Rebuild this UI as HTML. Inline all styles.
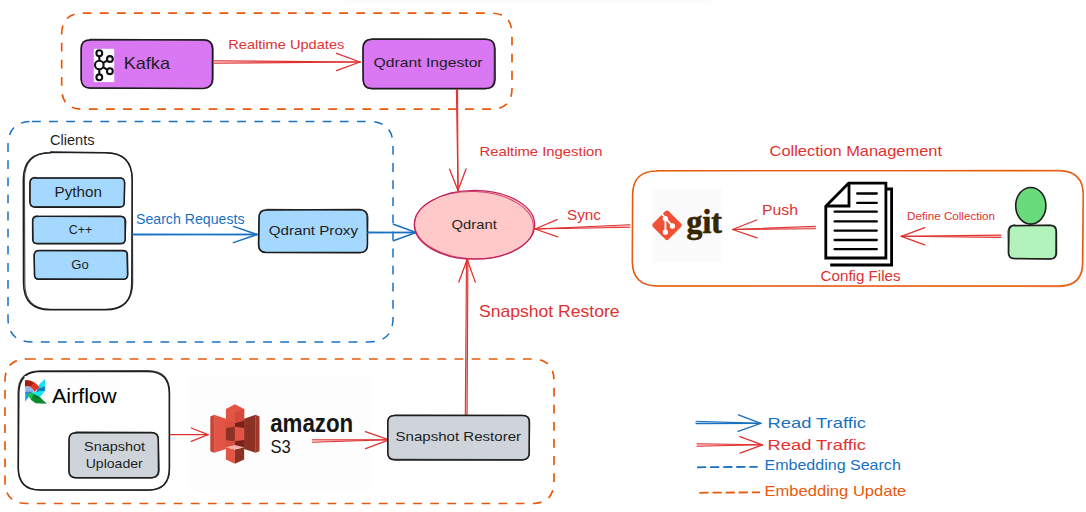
<!DOCTYPE html>
<html lang="en">
<head>
<meta charset="utf-8">
<title>Qdrant Architecture</title>
<style>
html,body{margin:0;padding:0;background:#ffffff;}
body{width:1086px;height:512px;overflow:hidden;font-family:"Liberation Sans", "DejaVu Sans", sans-serif;}
svg{display:block;}
text{white-space:pre;}
</style>
</head>
<body>
<svg width="1086" height="512" viewBox="0 0 1086 512">
<defs>
<filter id="blur" x="-10%" y="-200%" width="120%" height="500%"><feGaussianBlur stdDeviation="6 2.2"/></filter>
</defs>
<rect x="0" y="0" width="1086" height="512" fill="#ffffff"/>
<rect x="345" y="-6" width="365" height="8" fill="#000" opacity="0.032" filter="url(#blur)"/>
<path d="M82.7 13.2 L491.0 13.2 Q512.0 13.2 512.0 34.2 L512.0 88.2 Q512.0 109.2 491.0 109.2 L82.7 109.2 Q61.7 109.2 61.7 88.2 L61.7 34.2 Q61.7 13.2 82.7 13.2 Z" fill="none" stroke="#e8590c" stroke-width="1.7" stroke-dasharray="8.8 8.3"/>
<path d="M32.0 121.5 L369.0 121.5 Q393.0 121.5 393.0 145.5 L393.0 318.0 Q393.0 342.0 369.0 342.0 L32.0 342.0 Q8.0 342.0 8.0 318.0 L8.0 145.5 Q8.0 121.5 32.0 121.5 Z" fill="none" stroke="#1971c2" stroke-width="1.5" stroke-dasharray="8.8 8.3"/>
<path d="M27.0 359.0 L532.0 359.0 Q554.0 359.0 554.0 381.0 L554.0 481.5 Q554.0 503.5 532.0 503.5 L27.0 503.5 Q5.0 503.5 5.0 481.5 L5.0 381.0 Q5.0 359.0 27.0 359.0 Z" fill="none" stroke="#e8590c" stroke-width="1.7" stroke-dasharray="8.8 8.3"/>
<path d="M90.2 39.6 L203.6 39.6 Q212.6 39.6 212.6 48.6 L212.6 79.1 Q212.6 88.1 203.6 88.1 L90.2 88.1 Q81.2 88.1 81.2 79.1 L81.2 48.6 Q81.2 39.6 90.2 39.6 Z" fill="#da77f2" stroke="none"/>
<path d="M90.1 39.4 L203.3 39.9 Q212.3 39.8 212.5 48.8 L212.4 79.1 Q212.3 88.1 203.3 88.4 L90.1 87.9 Q81.1 88.1 81.3 79.1 L81.2 48.8 Q81.1 39.8 90.1 39.9 Z" fill="none" stroke="#1e1e1e" stroke-width="1.5" stroke-linejoin="round"/>
<path d="M90.2 40.0 L204.0 39.5 Q213.0 39.9 213.1 48.9 L213.1 79.1 Q213.0 88.1 204.0 88.5 L90.2 88.3 Q81.2 88.1 81.0 79.1 L81.1 48.9 Q81.2 39.9 90.2 40.0 Z" fill="none" stroke="#1e1e1e" stroke-width="1.20" stroke-linejoin="round" opacity="0.75"/>
<rect x="93.8" y="48.8" width="20.4" height="33.3" fill="#ffffff"/>
<g fill="none" stroke="#111" stroke-width="2.1"><path d="M99.3 56 V60.5 M99.3 69.5 V74.5 M103.2 62.8 L107.4 60.4 M103.2 67.2 L107.4 69.8"/><circle cx="99.3" cy="53.2" r="2.9"/><circle cx="99.3" cy="65" r="4.3"/><circle cx="99.3" cy="77.3" r="2.9"/><circle cx="109.9" cy="59" r="2.9"/><circle cx="109.9" cy="71.2" r="2.9"/></g>
<text x="123.7" y="69.1" font-size="16.6" fill="#1e1e1e" text-anchor="start" font-weight="normal" font-family='"Liberation Sans", "DejaVu Sans", sans-serif' textLength="46.3" lengthAdjust="spacingAndGlyphs">Kafka</text>
<path d="M372.0 39.1 L485.4 39.1 Q494.4 39.1 494.4 48.1 L494.4 79.9 Q494.4 88.9 485.4 88.9 L372.0 88.9 Q363.0 88.9 363.0 79.9 L363.0 48.1 Q363.0 39.1 372.0 39.1 Z" fill="#da77f2" stroke="none"/>
<path d="M372.3 39.3 L485.7 39.2 Q494.7 39.4 495.0 48.4 L495.1 79.7 Q494.7 88.7 485.7 88.4 L372.3 88.5 Q363.3 88.7 363.1 79.7 L363.1 48.4 Q363.3 39.4 372.3 39.3 Z" fill="none" stroke="#1e1e1e" stroke-width="1.5" stroke-linejoin="round"/>
<path d="M372.1 38.8 L485.0 39.0 Q494.0 38.9 494.4 47.9 L494.2 79.8 Q494.0 88.8 485.0 88.8 L372.1 88.9 Q363.1 88.8 363.2 79.8 L362.7 47.9 Q363.1 38.9 372.1 39.2 Z" fill="none" stroke="#1e1e1e" stroke-width="1.20" stroke-linejoin="round" opacity="0.75"/>
<text x="373.6" y="67" font-size="13.2" fill="#1e1e1e" text-anchor="start" font-weight="normal" font-family='"Liberation Sans", "DejaVu Sans", sans-serif' textLength="109" lengthAdjust="spacingAndGlyphs">Qdrant Ingestor</text>
<path d="M213.5 63.2 L360.0 62.0" stroke="#e03131" stroke-width="1.1" fill="none" stroke-linecap="round"/>
<path d="M213.5 60.8 L360.0 62.0" stroke="#e03131" stroke-width="1.1" fill="none" stroke-linecap="round"/>
<path d="M213.5 62.0 L360.0 62.0" stroke="#e03131" stroke-width="0.88" fill="none" stroke-linecap="round" opacity="0.45"/>
<path d="M336.5 53.4 L360.0 62.0" stroke="#e03131" stroke-width="1.3" fill="none" stroke-linecap="round"/>
<path d="M336.5 70.6 L360.0 62.0" stroke="#e03131" stroke-width="1.3" fill="none" stroke-linecap="round"/>
<text x="228.3" y="49.3" font-size="13.6" fill="#e03131" text-anchor="start" font-weight="normal" font-family='"Liberation Sans", "DejaVu Sans", sans-serif' textLength="116" lengthAdjust="spacingAndGlyphs">Realtime Updates</text>
<path d="M456.4 89.5 L458.0 190.5" stroke="#e03131" stroke-width="1.1" fill="none" stroke-linecap="round"/>
<path d="M457.6 89.5 L458.0 190.5" stroke="#e03131" stroke-width="1.1" fill="none" stroke-linecap="round"/>
<path d="M457.0 89.5 L458.0 190.5" stroke="#e03131" stroke-width="0.88" fill="none" stroke-linecap="round" opacity="0.45"/>
<path d="M466.0 168.9 L458.0 190.5" stroke="#e03131" stroke-width="1.3" fill="none" stroke-linecap="round"/>
<path d="M449.5 169.1 L458.0 190.5" stroke="#e03131" stroke-width="1.3" fill="none" stroke-linecap="round"/>
<text x="479.5" y="156.4" font-size="13.6" fill="#e03131" text-anchor="start" font-weight="normal" font-family='"Liberation Sans", "DejaVu Sans", sans-serif' textLength="123" lengthAdjust="spacingAndGlyphs">Realtime Ingestion</text>
<text x="50" y="144.5" font-size="13.8" fill="#1e1e1e" text-anchor="start" font-weight="normal" font-family='"Liberation Sans", "DejaVu Sans", sans-serif' textLength="44.5" lengthAdjust="spacingAndGlyphs">Clients</text>
<path d="M51.0 152.8 L105.4 152.8 Q132.4 152.8 132.4 179.8 L132.4 283.0 Q132.4 310.0 105.4 310.0 L51.0 310.0 Q24.0 310.0 24.0 283.0 L24.0 179.8 Q24.0 152.8 51.0 152.8 Z" fill="#ffffff" stroke="none"/>
<path d="M50.6 152.1 L105.1 152.8 Q132.1 152.5 132.2 179.5 L131.8 282.9 Q132.1 309.9 105.1 309.7 L50.6 309.8 Q23.6 309.9 23.5 282.9 L23.3 179.5 Q23.6 152.5 50.6 152.8 Z" fill="none" stroke="#1e1e1e" stroke-width="1.5" stroke-linejoin="round"/>
<path d="M51.4 152.5 L105.4 152.6 Q132.4 152.8 132.2 179.8 L132.7 282.7 Q132.4 309.7 105.4 309.4 L51.4 309.3 Q24.4 309.7 24.8 282.7 L24.4 179.8 Q24.4 152.8 51.4 152.5 Z" fill="none" stroke="#1e1e1e" stroke-width="1.20" stroke-linejoin="round" opacity="0.75"/>
<path d="M35.5 177.5 L119.0 177.5 Q124.0 177.5 124.0 182.5 L124.0 202.0 Q124.0 207.0 119.0 207.0 L35.5 207.0 Q30.5 207.0 30.5 202.0 L30.5 182.5 Q30.5 177.5 35.5 177.5 Z" fill="#a5d8ff" stroke="none"/>
<path d="M35.3 178.0 L119.4 178.0 Q124.4 177.7 124.6 182.7 L124.2 202.3 Q124.4 207.3 119.4 207.3 L35.3 207.2 Q30.3 207.3 29.9 202.3 L29.9 182.7 Q30.3 177.7 35.3 177.6 Z" fill="none" stroke="#1e1e1e" stroke-width="1.5" stroke-linejoin="round"/>
<path d="M35.3 178.0 L119.4 178.0 Q124.4 177.7 124.7 182.7 L124.3 202.0 Q124.4 207.0 119.4 206.7 L35.3 206.7 Q30.3 207.0 30.1 202.0 L30.1 182.7 Q30.3 177.7 35.3 177.8 Z" fill="none" stroke="#1e1e1e" stroke-width="1.20" stroke-linejoin="round" opacity="0.75"/>
<text x="54.5" y="196.7" font-size="13.8" fill="#1e1e1e" text-anchor="start" font-weight="normal" font-family='"Liberation Sans", "DejaVu Sans", sans-serif' textLength="47.5" lengthAdjust="spacingAndGlyphs">Python</text>
<path d="M37.5 216.0 L120.0 216.0 Q125.0 216.0 125.0 221.0 L125.0 239.0 Q125.0 244.0 120.0 244.0 L37.5 244.0 Q32.5 244.0 32.5 239.0 L32.5 221.0 Q32.5 216.0 37.5 216.0 Z" fill="#a5d8ff" stroke="none"/>
<path d="M37.4 216.2 L120.4 216.6 Q125.4 216.2 125.6 221.2 L125.1 238.9 Q125.4 243.9 120.4 243.6 L37.4 243.6 Q32.4 243.9 32.7 238.9 L32.6 221.2 Q32.4 216.2 37.4 216.0 Z" fill="none" stroke="#1e1e1e" stroke-width="1.5" stroke-linejoin="round"/>
<path d="M37.8 216.4 L120.1 216.1 Q125.1 216.4 124.7 221.4 L125.5 238.9 Q125.1 243.9 120.1 244.0 L37.8 243.9 Q32.8 243.9 33.1 238.9 L32.7 221.4 Q32.8 216.4 37.8 216.7 Z" fill="none" stroke="#1e1e1e" stroke-width="1.20" stroke-linejoin="round" opacity="0.75"/>
<text x="68.7" y="233.8" font-size="12.6" fill="#1e1e1e" text-anchor="start" font-weight="normal" font-family='"Liberation Sans", "DejaVu Sans", sans-serif' textLength="23.5" lengthAdjust="spacingAndGlyphs">C++</text>
<path d="M39.0 250.5 L122.5 250.5 Q127.5 250.5 127.5 255.5 L127.5 274.5 Q127.5 279.5 122.5 279.5 L39.0 279.5 Q34.0 279.5 34.0 274.5 L34.0 255.5 Q34.0 250.5 39.0 250.5 Z" fill="#a5d8ff" stroke="none"/>
<path d="M39.3 250.5 L122.8 250.5 Q127.8 250.4 127.4 255.4 L127.8 274.5 Q127.8 279.5 122.8 279.2 L39.3 279.1 Q34.3 279.5 34.6 274.5 L34.1 255.4 Q34.3 250.4 39.3 250.4 Z" fill="none" stroke="#1e1e1e" stroke-width="1.5" stroke-linejoin="round"/>
<path d="M39.2 250.6 L122.4 250.8 Q127.4 250.5 127.0 255.5 L127.4 274.5 Q127.4 279.5 122.4 279.3 L39.2 279.3 Q34.2 279.5 34.4 274.5 L34.2 255.5 Q34.2 250.5 39.2 250.6 Z" fill="none" stroke="#1e1e1e" stroke-width="1.20" stroke-linejoin="round" opacity="0.75"/>
<text x="71.2" y="269.2" font-size="12.8" fill="#1e1e1e" text-anchor="start" font-weight="normal" font-family='"Liberation Sans", "DejaVu Sans", sans-serif' textLength="17.5" lengthAdjust="spacingAndGlyphs">Go</text>
<path d="M132.5 234.9 L257.0 234.5" stroke="#1971c2" stroke-width="1.3" fill="none" stroke-linecap="round"/>
<path d="M132.5 234.1 L257.0 234.5" stroke="#1971c2" stroke-width="1.3" fill="none" stroke-linecap="round"/>
<path d="M132.5 234.5 L257.0 234.5" stroke="#1971c2" stroke-width="1.04" fill="none" stroke-linecap="round" opacity="0.45"/>
<path d="M233.4 226.4 L257.0 234.5" stroke="#1971c2" stroke-width="1.5" fill="none" stroke-linecap="round"/>
<path d="M233.4 242.6 L257.0 234.5" stroke="#1971c2" stroke-width="1.5" fill="none" stroke-linecap="round"/>
<text x="136" y="224" font-size="13.8" fill="#1971c2" text-anchor="start" font-weight="normal" font-family='"Liberation Sans", "DejaVu Sans", sans-serif' textLength="108.5" lengthAdjust="spacingAndGlyphs">Search Requests</text>
<path d="M266.5 210.0 L359.5 210.0 Q367.5 210.0 367.5 218.0 L367.5 244.5 Q367.5 252.5 359.5 252.5 L266.5 252.5 Q258.5 252.5 258.5 244.5 L258.5 218.0 Q258.5 210.0 266.5 210.0 Z" fill="#a5d8ff" stroke="none"/>
<path d="M266.9 210.1 L359.5 209.5 Q367.5 209.8 367.2 217.8 L367.5 244.9 Q367.5 252.9 359.5 252.5 L266.9 252.6 Q258.9 252.9 258.5 244.9 L259.0 217.8 Q258.9 209.8 266.9 210.0 Z" fill="none" stroke="#1e1e1e" stroke-width="1.5" stroke-linejoin="round"/>
<path d="M266.8 209.4 L359.7 210.0 Q367.7 209.7 368.0 217.7 L367.4 244.6 Q367.7 252.6 359.7 253.0 L266.8 252.5 Q258.8 252.6 258.8 244.6 L259.2 217.7 Q258.8 209.7 266.8 210.0 Z" fill="none" stroke="#1e1e1e" stroke-width="1.20" stroke-linejoin="round" opacity="0.75"/>
<text x="268.7" y="235" font-size="13.6" fill="#1e1e1e" text-anchor="start" font-weight="normal" font-family='"Liberation Sans", "DejaVu Sans", sans-serif' textLength="89.3" lengthAdjust="spacingAndGlyphs">Qdrant Proxy</text>
<path d="M368.0 232.9 L416.0 232.5" stroke="#1971c2" stroke-width="1.3" fill="none" stroke-linecap="round"/>
<path d="M368.0 232.1 L416.0 232.5" stroke="#1971c2" stroke-width="1.3" fill="none" stroke-linecap="round"/>
<path d="M368.0 232.5 L416.0 232.5" stroke="#1971c2" stroke-width="1.04" fill="none" stroke-linecap="round" opacity="0.45"/>
<path d="M393.4 224.3 L416.0 232.5" stroke="#1971c2" stroke-width="1.5" fill="none" stroke-linecap="round"/>
<path d="M393.4 240.7 L416.0 232.5" stroke="#1971c2" stroke-width="1.5" fill="none" stroke-linecap="round"/>
<ellipse cx="474.5" cy="224.8" rx="60" ry="34.3" fill="#ffc9c9"/>
<ellipse cx="474.5" cy="224.8" rx="60.2" ry="34.4" fill="none" stroke="#c2255c" stroke-width="1.3"/>
<ellipse cx="474" cy="225.2" rx="59.4" ry="33.6" fill="none" stroke="#c2255c" stroke-width="1" opacity="0.8" transform="rotate(2 474 225)"/>
<text x="451.6" y="229.3" font-size="13.2" fill="#1e1e1e" text-anchor="start" font-weight="normal" font-family='"Liberation Sans", "DejaVu Sans", sans-serif' textLength="45.2" lengthAdjust="spacingAndGlyphs">Qdrant</text>
<path d="M630.0 224.8 L535.0 229.0" stroke="#e03131" stroke-width="1.1" fill="none" stroke-linecap="round"/>
<path d="M630.0 227.2 L535.0 229.0" stroke="#e03131" stroke-width="1.1" fill="none" stroke-linecap="round"/>
<path d="M630.0 226.0 L535.0 229.0" stroke="#e03131" stroke-width="0.88" fill="none" stroke-linecap="round" opacity="0.45"/>
<path d="M557.7 236.9 L535.0 229.0" stroke="#e03131" stroke-width="1.3" fill="none" stroke-linecap="round"/>
<path d="M557.1 219.7 L535.0 229.0" stroke="#e03131" stroke-width="1.3" fill="none" stroke-linecap="round"/>
<text x="567" y="220" font-size="13.8" fill="#e03131" text-anchor="start" font-weight="normal" font-family='"Liberation Sans", "DejaVu Sans", sans-serif' textLength="34" lengthAdjust="spacingAndGlyphs">Sync</text>
<path d="M467.1 415.0 L467.9 259.5" stroke="#e03131" stroke-width="1.1" fill="none" stroke-linecap="round"/>
<path d="M465.3 415.0 L466.5 259.5" stroke="#e03131" stroke-width="1.1" fill="none" stroke-linecap="round"/>
<path d="M466.2 415.0 L467.2 259.5" stroke="#e03131" stroke-width="0.88" fill="none" stroke-linecap="round" opacity="0.45"/>
<path d="M458.8 282.0 L467.2 259.5" stroke="#e03131" stroke-width="1.3" fill="none" stroke-linecap="round"/>
<path d="M475.3 282.1 L467.2 259.5" stroke="#e03131" stroke-width="1.3" fill="none" stroke-linecap="round"/>
<text x="479" y="316.6" font-size="16.2" fill="#e03131" text-anchor="start" font-weight="normal" font-family='"Liberation Sans", "DejaVu Sans", sans-serif' textLength="140.6" lengthAdjust="spacingAndGlyphs">Snapshot Restore</text>
<text x="769.6" y="156.3" font-size="14.8" fill="#e03131" text-anchor="start" font-weight="normal" font-family='"Liberation Sans", "DejaVu Sans", sans-serif' textLength="172.4" lengthAdjust="spacingAndGlyphs">Collection Management</text>
<path d="M656.7 170.6 L1059.0 170.8 Q1083.0 170.9 1083.2 194.9 L1082.5 261.8 Q1083.0 285.8 1059.0 285.9 L656.7 285.8 Q632.7 285.8 632.2 261.8 L632.5 194.9 Q632.7 170.9 656.7 171.1 Z" fill="none" stroke="#e8590c" stroke-width="1.35" stroke-linejoin="round"/>
<path d="M657.0 171.0 L1059.5 170.2 Q1083.5 170.6 1083.3 194.6 L1083.0 262.3 Q1083.5 286.3 1059.5 286.6 L657.0 286.1 Q633.0 286.3 632.6 262.3 L632.9 194.6 Q633.0 170.6 657.0 171.0 Z" fill="none" stroke="#e8590c" stroke-width="1.08" stroke-linejoin="round" opacity="0.75"/>
<rect x="652.6" y="187.6" width="69.2" height="75" fill="#fbfbfb"/>
<g transform="translate(667 225.3) rotate(45)"><rect x="-11.1" y="-11.1" width="22.2" height="22.2" rx="2.4" fill="#f05033"/></g>
<g stroke="#fff" stroke-width="1.9" fill="#fff" stroke-linecap="round"><path d="M661.6 213.6 L665.4 218 V232 M665.4 218 L672 225.6" fill="none"/><circle cx="665.4" cy="218.6" r="1.7"/><circle cx="672.4" cy="226" r="1.7"/><circle cx="665.4" cy="232.2" r="1.7"/></g>
<text x="686.6" y="232.7" font-size="33" fill="#362701" text-anchor="start" font-weight="bold" font-family='"Liberation Serif", "DejaVu Serif", serif' textLength="35.2" lengthAdjust="spacingAndGlyphs" stroke="#362701" stroke-width="0.7">git</text>
<path d="M815.5 226.3 L732.5 229.5" stroke="#e03131" stroke-width="1.1" fill="none" stroke-linecap="round"/>
<path d="M815.5 228.7 L732.5 229.5" stroke="#e03131" stroke-width="1.1" fill="none" stroke-linecap="round"/>
<path d="M815.5 227.5 L732.5 229.5" stroke="#e03131" stroke-width="0.88" fill="none" stroke-linecap="round" opacity="0.45"/>
<path d="M757.1 237.8 L732.5 229.5" stroke="#e03131" stroke-width="1.3" fill="none" stroke-linecap="round"/>
<path d="M756.7 220.0 L732.5 229.5" stroke="#e03131" stroke-width="1.3" fill="none" stroke-linecap="round"/>
<text x="762" y="215" font-size="13.8" fill="#e03131" text-anchor="start" font-weight="normal" font-family='"Liberation Sans", "DejaVu Sans", sans-serif' textLength="36" lengthAdjust="spacingAndGlyphs">Push</text>
<g stroke="#000" stroke-width="2.8" fill="#fff" stroke-linejoin="miter"><path d="M830.2 265 H891.6 V189 H886"/><path d="M825.8 206.2 L848.6 183.2 H885.9 V258 H825.8 Z"/><path d="M826 206 H849 V183.4" fill="none"/></g>
<g stroke="#000" stroke-width="2.3" fill="none" stroke-linecap="round"><path d="M857.2 193.5 H876.8 M857.2 202.9 H876.8 M834.6 211.7 H876.8 M834.6 221.4 H876.8 M834.6 230.6 H876.8 M834.6 240 H876.8 M834.6 249.2 H876.8"/></g>
<text x="820.6" y="281" font-size="13.8" fill="#e03131" text-anchor="start" font-weight="normal" font-family='"Liberation Sans", "DejaVu Sans", sans-serif' textLength="80" lengthAdjust="spacingAndGlyphs">Config Files</text>
<path d="M1001.0 235.1 L901.3 236.3" stroke="#e03131" stroke-width="1.1" fill="none" stroke-linecap="round"/>
<path d="M1001.0 237.5 L901.3 236.3" stroke="#e03131" stroke-width="1.1" fill="none" stroke-linecap="round"/>
<path d="M1001.0 236.3 L901.3 236.3" stroke="#e03131" stroke-width="0.88" fill="none" stroke-linecap="round" opacity="0.45"/>
<path d="M924.8 244.9 L901.3 236.3" stroke="#e03131" stroke-width="1.3" fill="none" stroke-linecap="round"/>
<path d="M924.8 227.7 L901.3 236.3" stroke="#e03131" stroke-width="1.3" fill="none" stroke-linecap="round"/>
<text x="907" y="219.7" font-size="11.2" fill="#e03131" text-anchor="start" font-weight="normal" font-family='"Liberation Sans", "DejaVu Sans", sans-serif' textLength="88" lengthAdjust="spacingAndGlyphs">Define Collection</text>
<ellipse cx="1030.8" cy="205.8" rx="15.1" ry="18.3" fill="#69db7c" stroke="#1e1e1e" stroke-width="1.6"/>
<path d="M1014.7 225.7 L1050.2 225.7 Q1056.2 225.7 1056.2 231.7 L1056.2 253.1 Q1056.2 259.1 1050.2 259.1 L1014.7 259.1 Q1008.7 259.1 1008.7 253.1 L1008.7 231.7 Q1008.7 225.7 1014.7 225.7 Z" fill="#b2f2bb" stroke="none"/>
<path d="M1014.9 225.7 L1050.5 225.3 Q1056.5 225.4 1056.4 231.4 L1056.5 252.8 Q1056.5 258.8 1050.5 259.1 L1014.9 258.6 Q1008.9 258.8 1008.6 252.8 L1009.0 231.4 Q1008.9 225.4 1014.9 225.2 Z" fill="none" stroke="#1e1e1e" stroke-width="1.5" stroke-linejoin="round"/>
<path d="M1014.4 225.3 L1049.8 225.3 Q1055.8 225.4 1056.0 231.4 L1055.7 252.9 Q1055.8 258.9 1049.8 258.9 L1014.4 258.6 Q1008.4 258.9 1008.3 252.9 L1008.0 231.4 Q1008.4 225.4 1014.4 225.2 Z" fill="none" stroke="#1e1e1e" stroke-width="1.20" stroke-linejoin="round" opacity="0.75"/>
<path d="M40.5 371.0 L147.5 371.0 Q169.5 371.0 169.5 393.0 L169.5 468.0 Q169.5 490.0 147.5 490.0 L40.5 490.0 Q18.5 490.0 18.5 468.0 L18.5 393.0 Q18.5 371.0 40.5 371.0 Z" fill="#ffffff" stroke="none"/>
<path d="M40.7 371.6 L147.4 371.5 Q169.4 371.4 169.3 393.4 L169.3 468.3 Q169.4 490.3 147.4 489.9 L40.7 490.0 Q18.7 490.3 18.3 468.3 L18.8 393.4 Q18.7 371.4 40.7 371.2 Z" fill="none" stroke="#1e1e1e" stroke-width="1.5" stroke-linejoin="round"/>
<path d="M40.2 370.8 L147.8 370.5 Q169.8 370.7 169.6 392.7 L169.6 468.3 Q169.8 490.3 147.8 490.3 L40.2 490.0 Q18.2 490.3 18.2 468.3 L18.0 392.7 Q18.2 370.7 40.2 371.0 Z" fill="none" stroke="#1e1e1e" stroke-width="1.20" stroke-linejoin="round" opacity="0.75"/>
<rect x="24.6" y="376" width="95.5" height="30.5" fill="#fdfdfd"/>
<path d="M25.18 386.62 L29.96 385.95 L33.28 388.94 L33.61 392.26 L25.18 392.26 Z" fill="#8fb6f2"/>
<path d="M25.18 391.80 L33.61 391.80 L29.96 394.25 L25.18 394.25 Z" fill="#3d7fe8"/>
<path d="M25.18 393.79 L30.62 393.79 L25.18 401.76 Z" fill="#1f9bf2"/>
<path d="M44.90 378.78 L45.10 387.28 L38.59 388.28 L37.40 386.62 Z" fill="#19e0f2"/>
<path d="M45.10 386.62 L45.10 390.93 L35.60 392.26 L38.26 388.28 Z" fill="#0b7fc0"/>
<path d="M33.61 392.26 L45.10 390.60 L39.92 397.24 L34.28 396.24 Z" fill="#10e6f5"/>
<path d="M26.97 394.92 L28.63 393.12 L33.61 392.46 L34.28 396.58 L32.28 400.89 Z" fill="#1cc44d"/>
<path d="M33.61 393.92 L39.92 397.24 L46.89 403.68 L35.60 403.35 L30.96 399.76 Z" fill="#0b8a30"/>
<path d="M33.61 393.92 L34.28 396.58 L37.26 399.23 L39.92 397.24 Z" fill="#0a7428"/>
<path d="M24.98 380.31 C31.29 379.64 36.60 382.63 39.39 387.61 L34.08 392.06 C33.61 388.28 29.96 385.29 24.98 386.62 Z" fill="#e5341b"/>
<path d="M24.98 380.31 C28.63 379.84 31.62 380.97 33.61 382.96 L30.62 386.28 C28.96 385.42 26.97 385.42 24.98 386.62 Z" fill="#a81f0e"/>
<text x="52" y="402.6" font-size="20" fill="#000" text-anchor="start" font-weight="normal" font-family='"Liberation Sans", "DejaVu Sans", sans-serif' textLength="64.6" lengthAdjust="spacingAndGlyphs">Airflow</text>
<path d="M76.0 433.0 L151.5 433.0 Q158.5 433.0 158.5 440.0 L158.5 471.0 Q158.5 478.0 151.5 478.0 L76.0 478.0 Q69.0 478.0 69.0 471.0 L69.0 440.0 Q69.0 433.0 76.0 433.0 Z" fill="#ced4da" stroke="none"/>
<path d="M75.8 432.3 L151.4 432.5 Q158.4 432.7 158.2 439.7 L158.5 470.6 Q158.4 477.6 151.4 477.7 L75.8 477.8 Q68.8 477.6 68.9 470.6 L69.0 439.7 Q68.8 432.7 75.8 433.0 Z" fill="none" stroke="#1e1e1e" stroke-width="1.5" stroke-linejoin="round"/>
<path d="M75.9 433.0 L151.9 433.0 Q158.9 432.9 158.5 439.9 L159.2 470.7 Q158.9 477.7 151.9 478.0 L75.9 477.8 Q68.9 477.7 69.1 470.7 L69.2 439.9 Q68.9 432.9 75.9 432.6 Z" fill="none" stroke="#1e1e1e" stroke-width="1.20" stroke-linejoin="round" opacity="0.75"/>
<text x="114.5" y="450.8" font-size="13.2" fill="#1e1e1e" text-anchor="middle" font-weight="normal" font-family='"Liberation Sans", "DejaVu Sans", sans-serif' textLength="61" lengthAdjust="spacingAndGlyphs">Snapshot</text>
<text x="114.2" y="468" font-size="13.2" fill="#1e1e1e" text-anchor="middle" font-weight="normal" font-family='"Liberation Sans", "DejaVu Sans", sans-serif' textLength="57" lengthAdjust="spacingAndGlyphs">Uploader</text>
<rect x="189.6" y="376.4" width="179.8" height="113.4" fill="#fdfdfd"/>
<path d="M210.29 416.54 L214.25 414.76 L214.25 452.77 L210.29 451.26 Z" fill="#c4473a"/>
<path d="M214.11 414.76 L226.01 418.73 L226.01 448.94 L214.11 452.77 Z" fill="#e25444"/>
<path d="M259.50 416.54 L255.54 414.76 L255.54 452.77 L259.50 451.26 Z" fill="#a13729"/>
<path d="M255.67 414.76 L244.05 418.73 L244.05 448.94 L255.67 452.77 Z" fill="#8c3123"/>
<path d="M225.87 419.14 L234.89 420.51 L234.89 447.85 L225.87 447.85 Z" fill="#d94f40"/>
<path d="M234.89 420.51 L244.19 419.14 L244.19 447.85 L234.89 447.85 Z" fill="#7a2118"/>
<path d="M225.87 409.02 L234.89 404.37 L244.19 409.02 L244.19 420.51 L234.89 422.97 L225.87 420.51 Z" fill="#e25444"/>
<path d="M234.89 412.58 L244.19 409.02 L244.19 420.51 L234.89 422.97 Z" fill="#d24a3b"/>
<path d="M225.87 428.02 L234.89 426.79 L234.89 441.29 L225.87 439.92 Z" fill="#8c3123"/>
<path d="M234.89 426.79 L244.19 428.02 L244.19 439.92 L234.89 441.29 Z" fill="#e25444"/>
<path d="M225.87 447.16 L234.89 449.49 L234.89 463.84 L225.87 459.60 Z" fill="#e25444"/>
<path d="M234.89 449.49 L244.19 447.16 L244.19 459.60 L234.89 463.84 Z" fill="#8c3123"/>
<path d="M225.87 447.16 L234.89 444.98 L244.19 447.16 L234.89 449.49 Z" fill="#f2b0a9"/>
<path d="M170.0 434.7 L208.0 434.7" stroke="#e03131" stroke-width="1.3" fill="none" stroke-linecap="round"/>
<path d="M191.3 428.0 L208.0 434.7" stroke="#e03131" stroke-width="1.3" fill="none" stroke-linecap="round"/>
<path d="M191.3 441.4 L208.0 434.7" stroke="#e03131" stroke-width="1.3" fill="none" stroke-linecap="round"/>
<text x="270.2" y="432.3" font-size="26" fill="#161616" text-anchor="start" font-weight="bold" font-family='"Liberation Sans", "DejaVu Sans", sans-serif' textLength="83" lengthAdjust="spacingAndGlyphs">amazon</text>
<text x="270.4" y="452.6" font-size="19" fill="#161616" text-anchor="start" font-weight="normal" font-family='"Liberation Sans", "DejaVu Sans", sans-serif' textLength="20.3" lengthAdjust="spacingAndGlyphs">S3</text>
<path d="M312.5 442.2 L389.0 439.8" stroke="#e03131" stroke-width="1.1" fill="none" stroke-linecap="round"/>
<path d="M312.5 439.8 L389.0 439.8" stroke="#e03131" stroke-width="1.1" fill="none" stroke-linecap="round"/>
<path d="M312.5 441.0 L389.0 439.8" stroke="#e03131" stroke-width="0.88" fill="none" stroke-linecap="round" opacity="0.45"/>
<path d="M365.4 431.6 L389.0 439.8" stroke="#e03131" stroke-width="1.3" fill="none" stroke-linecap="round"/>
<path d="M365.6 448.7 L389.0 439.8" stroke="#e03131" stroke-width="1.3" fill="none" stroke-linecap="round"/>
<path d="M395.1 415.0 L522.5 415.0 Q529.5 415.0 529.5 422.0 L529.5 452.7 Q529.5 459.7 522.5 459.7 L395.1 459.7 Q388.1 459.7 388.1 452.7 L388.1 422.0 Q388.1 415.0 395.1 415.0 Z" fill="#ced4da" stroke="none"/>
<path d="M394.8 415.4 L522.5 415.4 Q529.5 415.3 529.5 422.3 L529.1 452.8 Q529.5 459.8 522.5 460.0 L394.8 460.0 Q387.8 459.8 387.8 452.8 L387.8 422.3 Q387.8 415.3 394.8 415.4 Z" fill="none" stroke="#1e1e1e" stroke-width="1.5" stroke-linejoin="round"/>
<path d="M394.8 415.0 L522.3 415.4 Q529.3 415.2 529.1 422.2 L529.5 452.4 Q529.3 459.4 522.3 459.7 L394.8 459.4 Q387.8 459.4 387.7 452.4 L387.7 422.2 Q387.8 415.2 394.8 415.3 Z" fill="none" stroke="#1e1e1e" stroke-width="1.20" stroke-linejoin="round" opacity="0.75"/>
<text x="395.5" y="441.2" font-size="13.2" fill="#1e1e1e" text-anchor="start" font-weight="normal" font-family='"Liberation Sans", "DejaVu Sans", sans-serif' textLength="125.6" lengthAdjust="spacingAndGlyphs">Snapshot Restorer</text>
<path d="M696.0 423.6 L760.8 423.4" stroke="#1971c2" stroke-width="1.1" fill="none" stroke-linecap="round"/>
<path d="M696.0 421.2 L760.8 423.4" stroke="#1971c2" stroke-width="1.1" fill="none" stroke-linecap="round"/>
<path d="M696.0 422.4 L760.8 423.4" stroke="#1971c2" stroke-width="0.88" fill="none" stroke-linecap="round" opacity="0.45"/>
<path d="M738.4 414.8 L760.8 423.4" stroke="#1971c2" stroke-width="1.3" fill="none" stroke-linecap="round"/>
<path d="M738.1 431.3 L760.8 423.4" stroke="#1971c2" stroke-width="1.3" fill="none" stroke-linecap="round"/>
<text x="767.5" y="428.1" font-size="14.2" fill="#1971c2" text-anchor="start" font-weight="normal" font-family='"Liberation Sans", "DejaVu Sans", sans-serif' textLength="98.5" lengthAdjust="spacingAndGlyphs">Read Traffic</text>
<path d="M697.0 446.2 L762.5 444.8" stroke="#e03131" stroke-width="1.1" fill="none" stroke-linecap="round"/>
<path d="M697.0 443.8 L762.5 444.8" stroke="#e03131" stroke-width="1.1" fill="none" stroke-linecap="round"/>
<path d="M697.0 445.0 L762.5 444.8" stroke="#e03131" stroke-width="0.88" fill="none" stroke-linecap="round" opacity="0.45"/>
<path d="M739.9 436.7 L762.5 444.8" stroke="#e03131" stroke-width="1.3" fill="none" stroke-linecap="round"/>
<path d="M740.0 453.1 L762.5 444.8" stroke="#e03131" stroke-width="1.3" fill="none" stroke-linecap="round"/>
<text x="767.5" y="450" font-size="14.2" fill="#e03131" text-anchor="start" font-weight="normal" font-family='"Liberation Sans", "DejaVu Sans", sans-serif' textLength="98.5" lengthAdjust="spacingAndGlyphs">Read Traffic</text>
<path d="M697 467.3 L757.6 466.8" stroke="#1971c2" stroke-width="1.8" stroke-dasharray="9.2 3.9" fill="none"/>
<text x="764.5" y="470.3" font-size="14.2" fill="#1971c2" text-anchor="start" font-weight="normal" font-family='"Liberation Sans", "DejaVu Sans", sans-serif' textLength="136.3" lengthAdjust="spacingAndGlyphs">Embedding Search</text>
<path d="M699.4 492.8 L760 492.3" stroke="#e8590c" stroke-width="1.8" stroke-dasharray="9.2 3.9" fill="none"/>
<text x="764.5" y="495.7" font-size="14.2" fill="#e8590c" text-anchor="start" font-weight="normal" font-family='"Liberation Sans", "DejaVu Sans", sans-serif' textLength="141.8" lengthAdjust="spacingAndGlyphs">Embedding Update</text>
</svg>
</body>
</html>
